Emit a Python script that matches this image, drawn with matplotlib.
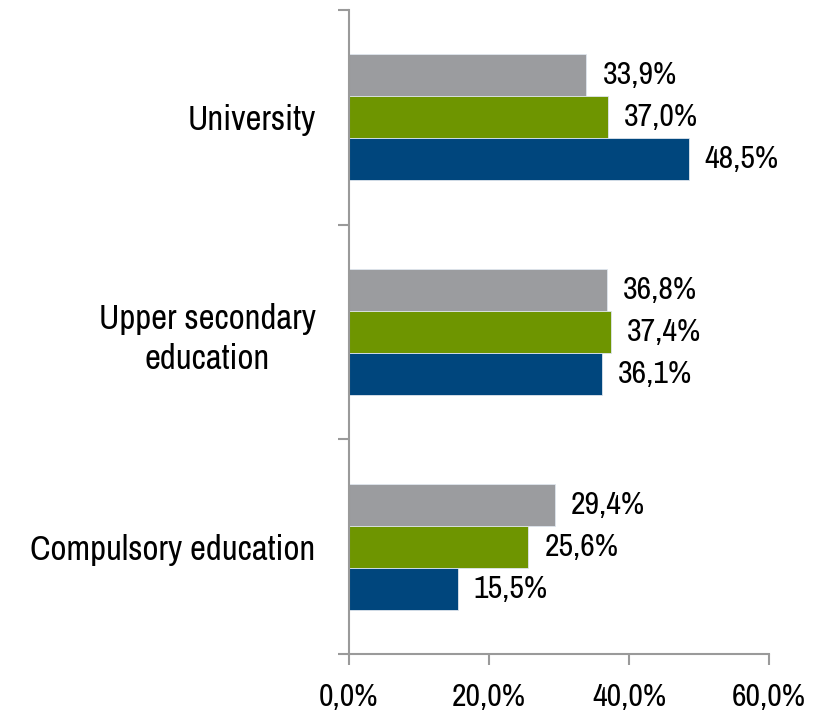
import matplotlib.pyplot as plt
import numpy as np

plt.rcParams['font.family'] = ['Archivo Narrow', 'Liberation Sans', 'DejaVu Sans']

categories = ["University", "Upper secondary\neducation", "Compulsory education"]
series_gray = [33.9, 36.8, 29.4]
series_green = [37.0, 37.4, 25.6]
series_blue = [48.5, 36.1, 15.5]
x_ticks = [0, 20, 40, 60]

colors = ["#9b9c9f", "#6e9500", "#00467d"]
axis_color = "#9a9a9a"

fig = plt.figure(figsize=(8.17, 7.17), dpi=100)
ax = fig.add_axes([349 / 817, 1 - 654 / 717, 420 / 817, 644 / 717])

# categories from top to bottom
ypos = np.arange(len(categories))[::-1]
h = 0.196
offsets = [h, 0, -h]

for vals, color, off in zip([series_gray, series_green, series_blue], colors, offsets):
    ax.barh(ypos + off, vals, height=h, color=color,
            edgecolor="#dfe6ee", linewidth=0.6)
    for y, v in zip(ypos + off, vals):
        ax.text(v + 2.3, y, f"{v:.1f}%".replace(".", ","),
                va="center", ha="left", fontsize=23)

ax.set_xlim(0, 60)
ax.set_ylim(-0.5, len(categories) - 0.5)

ax.set_xticks(x_ticks)
ax.set_xticklabels([f"{t:.1f}%".replace(".", ",") for t in x_ticks], fontsize=23)

ax.set_yticks(ypos)
ax.set_yticklabels(categories, fontsize=25, multialignment="center",
                   linespacing=1.3)
ax.set_yticks(np.arange(-0.5, len(categories), 1.0), minor=True)

ax.tick_params(axis="y", which="major", length=0, pad=24)
ax.tick_params(axis="y", which="minor", length=8, width=1.5, color=axis_color)
ax.tick_params(axis="x", length=8, width=1.5, color=axis_color, pad=13)

for side in ["top", "right"]:
    ax.spines[side].set_visible(False)
for side in ["left", "bottom"]:
    ax.spines[side].set_color(axis_color)
    ax.spines[side].set_linewidth(1.5)

fig.savefig("out.png", dpi=100)
